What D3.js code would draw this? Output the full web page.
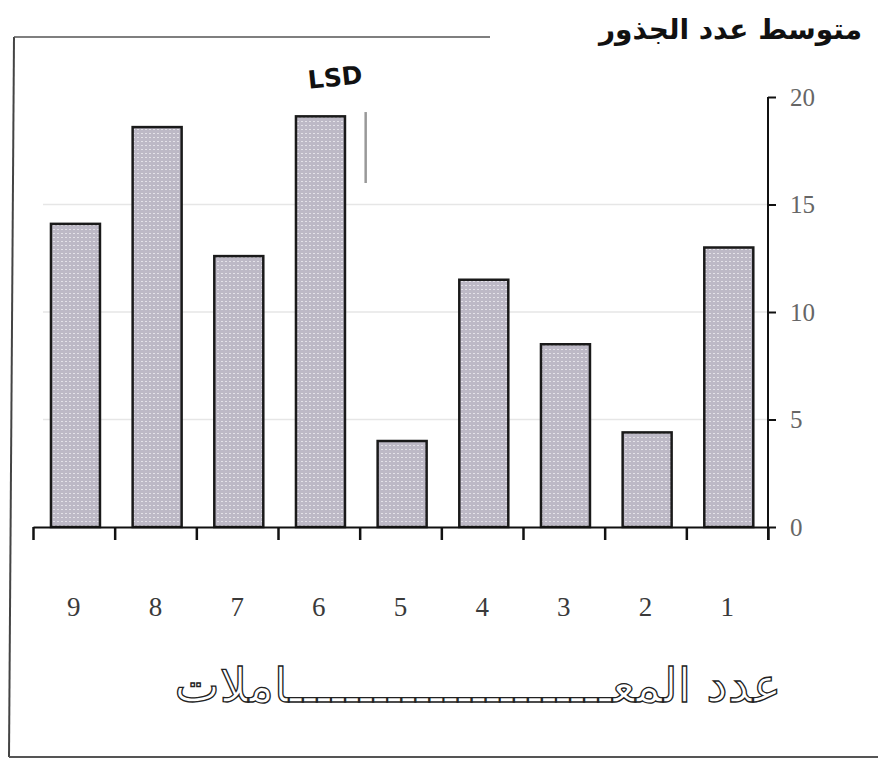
<!DOCTYPE html>
<html>
<head>
<meta charset="utf-8">
<script src="https://cdn.jsdelivr.net/npm/d3@7"></script>
<style>
  body { margin: 0; background: #fff; }
  svg { display: block; }
</style>
</head>
<body>
<div id="chart"></div>
<script>
// treatments, drawn right-to-left (1 sits next to the axis)
const treatments = ["9", "8", "7", "6", "5", "4", "3", "2", "1"];
// mean number of roots per treatment
const meanRoots = [14.1, 18.6, 12.6, 19.1, 4.0, 11.5, 8.5, 4.4, 13.0];
const yTicks = [0, 5, 10, 15, 20];
const lsdValue = 3.3;
const lsdTop = 19.3;

const titleText = "متوسط عدد الجذور";
const xLabelText = "عدد المعـــــــــــــــــــــــاملات";

const width = 878, height = 762;
const plot = {left: 33, right: 768, top: 97, bottom: 527};

const svg = d3.select("#chart").append("svg")
  .attr("width", width)
  .attr("height", height);

// dotted grey-lavender fill like the printed bars
const defs = svg.append("defs");
const pat = defs.append("pattern")
  .attr("id", "dots")
  .attr("patternUnits", "userSpaceOnUse")
  .attr("width", 4).attr("height", 4);
pat.append("rect").attr("width", 4).attr("height", 4).attr("fill", "#bdb9c6");
pat.append("rect").attr("x", 1).attr("y", 1).attr("width", 2).attr("height", 1).attr("fill", "#e4e2e8");

// page frame (scanned border)
svg.append("line")
  .attr("x1", 14).attr("y1", 37).attr("x2", 9).attr("y2", 757)
  .attr("stroke", "#444").attr("stroke-width", 2);
svg.append("line")
  .attr("x1", 14).attr("y1", 37).attr("x2", 490).attr("y2", 37)
  .attr("stroke", "#555").attr("stroke-width", 1.5);
svg.append("line")
  .attr("x1", 9).attr("y1", 757).attr("x2", 878).attr("y2", 757)
  .attr("stroke", "#555").attr("stroke-width", 2);

const x = d3.scaleBand()
  .domain(treatments)
  .range([plot.left, plot.right])
  .paddingInner(0.4)
  .paddingOuter(0.2)
  .align(0.55);

const xEdge = d3.scaleLinear()
  .domain([0, treatments.length])
  .range([plot.left, plot.right]);

const y = d3.scaleLinear()
  .domain([0, 20])
  .range([plot.bottom, plot.top]);

// faint gridlines
svg.append("g")
  .selectAll("line")
  .data(yTicks.filter(d => d > 0 && d < 20))
  .join("line")
    .attr("x1", plot.left + 10).attr("x2", plot.right)
    .attr("y1", d => y(d)).attr("y2", d => y(d))
    .attr("stroke", "#e6e6e6")
    .attr("stroke-width", 1.5);

// bars
svg.append("g")
  .selectAll("rect")
  .data(meanRoots)
  .join("rect")
    .attr("x", (d, i) => x(treatments[i]))
    .attr("y", d => y(d))
    .attr("width", x.bandwidth())
    .attr("height", d => y(0) - y(d))
    .attr("fill", "url(#dots)")
    .attr("stroke", "#1a1a1a")
    .attr("stroke-width", 2.5);

// x axis with ticks on the category borders
const xAxis = svg.append("g")
  .attr("transform", `translate(0, ${plot.bottom})`)
  .call(d3.axisBottom(xEdge)
    .tickValues(d3.range(treatments.length + 1))
    .tickFormat("")
    .tickSizeInner(13)
    .tickSizeOuter(0));
xAxis.select(".domain").attr("stroke", "#111").attr("stroke-width", 2);
xAxis.selectAll(".tick line").attr("stroke", "#111").attr("stroke-width", 2.5);

svg.append("g")
  .selectAll("text")
  .data(treatments)
  .join("text")
    .attr("x", d => xEdge(treatments.indexOf(d) + 0.5))
    .attr("y", 616)
    .attr("text-anchor", "middle")
    .attr("font-family", "Liberation Serif")
    .attr("font-size", 27)
    .attr("fill", "#3a3a3a")
    .text(d => d);

// y axis on the right
const yAxis = svg.append("g")
  .attr("transform", `translate(${plot.right}, 0)`)
  .call(d3.axisRight(y)
    .tickValues(yTicks)
    .tickSizeInner(8)
    .tickSizeOuter(0)
    .tickPadding(14));
yAxis.select(".domain").remove();
yAxis.append("line")
  .attr("y1", y(20)).attr("y2", y(0) + 13)
  .attr("stroke", "#111").attr("stroke-width", 2);
yAxis.selectAll(".tick line").attr("stroke", "#111").attr("stroke-width", 2);
yAxis.selectAll(".tick text")
  .attr("font-family", "Liberation Serif")
  .attr("font-size", 25)
  .attr("fill", "#666");

// LSD bar
const lsdX = xEdge(4) + 6;
svg.append("line")
  .attr("x1", lsdX).attr("x2", lsdX)
  .attr("y1", y(lsdTop)).attr("y2", y(lsdTop - lsdValue))
  .attr("stroke", "#999").attr("stroke-width", 2.5);
svg.append("text")
  .attr("transform", "translate(336, 86) rotate(-6)")
  .attr("text-anchor", "middle")
  .attr("font-family", "DejaVu Sans")
  .attr("font-weight", "bold")
  .attr("font-size", 25)
  .attr("fill", "#111")
  .text("LSD");

// title
svg.append("text")
  .attr("x", 862)
  .attr("y", 39)
  .attr("text-anchor", "end")
  .attr("font-family", "DejaVu Sans")
  .attr("font-weight", "bold")
  .attr("font-size", 28)
  .attr("fill", "#111")
  .text(titleText);

// x axis title, outlined letters
svg.append("text")
  .attr("x", 478)
  .attr("y", 702)
  .attr("text-anchor", "middle")
  .attr("font-family", "DejaVu Sans")
  .attr("font-size", 48)
  .attr("fill", "#fff")
  .attr("stroke", "#222")
  .attr("stroke-width", 1.3)
  .text(xLabelText);
</script>
</body>
</html>
